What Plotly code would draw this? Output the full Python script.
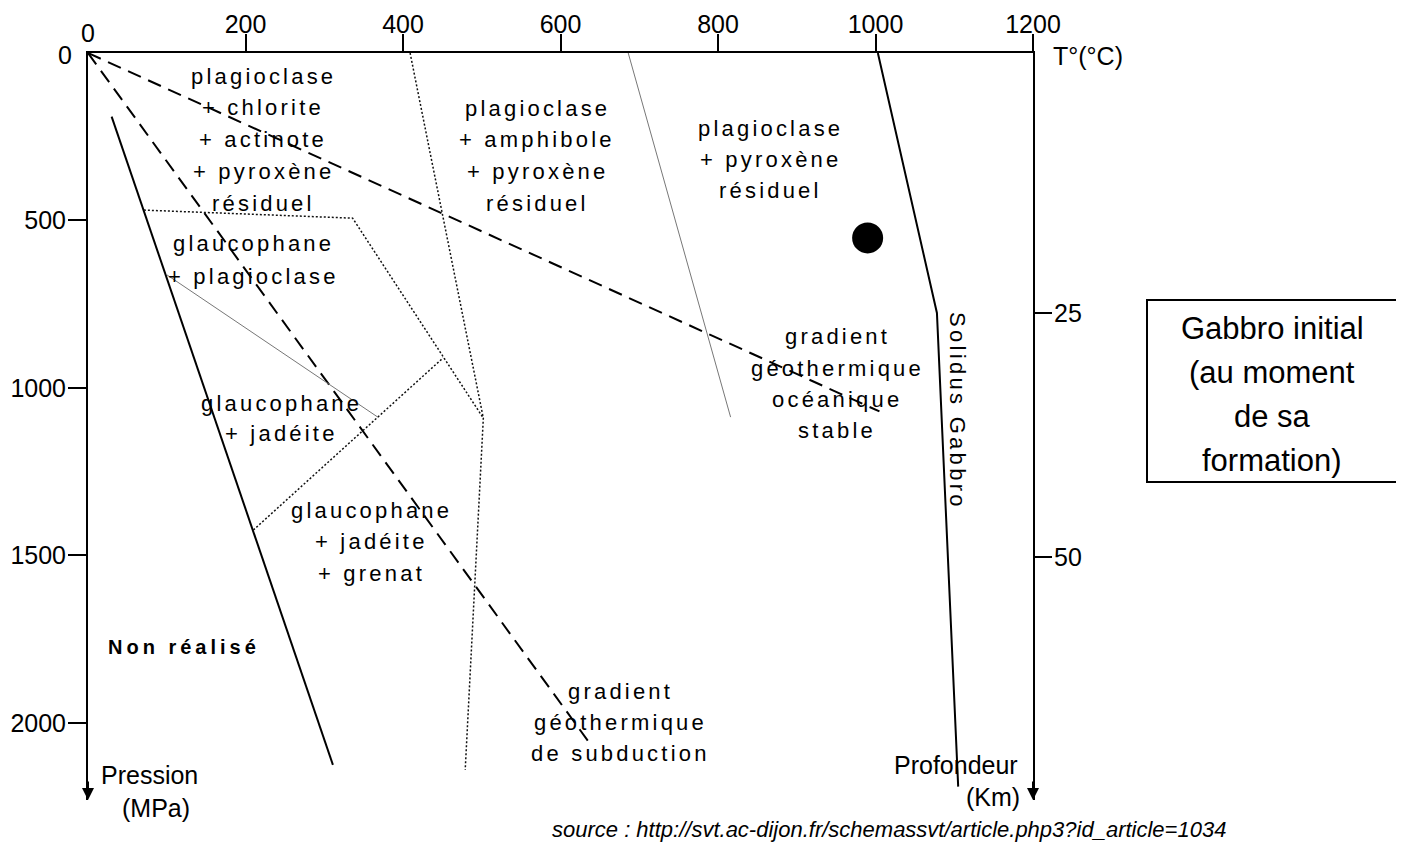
import plotly.graph_objects as go

# ---------------- data (T in °C, P in MPa) ----------------
x_ticks = [200, 400, 600, 800, 1000, 1200]
y_ticks = [500, 1000, 1500, 2000]
depth_tick_mpa = [776, 1505]
depth_tick_km = ["25", "50"]

limit_T = [30, 311]
limit_P = [190, 2125]

solidus_T = [1003, 1078, 1105]
solidus_P = [0, 776, 2190]

ocean_grad_T = [0, 1005]
ocean_grad_P = [0, 1070]

subd_grad_T = [0, 640]
subd_grad_P = [0, 2070]

dot1_T = [409, 502, 479]
dot1_P = [0, 1090, 2140]

dot2_T = [71, 336, 502]
dot2_P = [469, 493, 1090]

dot3_T = [210, 451]
dot3_P = [1424, 910]

thin1_T = [100, 368]
thin1_P = [662, 1087]

thin2_T = [686, 816]
thin2_P = [0, 1087]

gabbro_T = [990]
gabbro_P = [552]

legend_dot_T = [1520]
legend_dot_P = [624]

P_MAX = 2230

# ---------------- figure ----------------
# page has an 8px body margin: the figure is drawn 8px right / 8px down
OFF = 8
W, H = 1404 - OFF, 846 - OFF
PL, PR, PT, PB = 88, 1033, 53, 800          # plot-area edges in page pixels
FONT = "Arial, Liberation Sans, sans-serif"


def xp(px):
    return (px - PL) / (PR - PL)


def yp(py):
    return (PB - py) / (PB - PT)


fig = go.Figure()


def line(T, P, width=2, dash="solid", color="black"):
    fig.add_trace(go.Scatter(x=T, y=P, mode="lines",
                             line=dict(color=color, width=width, dash=dash),
                             hoverinfo="skip", showlegend=False))


line(limit_T, limit_P, 2)
line(solidus_T, solidus_P, 2)
line(ocean_grad_T, ocean_grad_P, 2, "14px,8px")
line(subd_grad_T, subd_grad_P, 2, "14px,8px")
line(dot1_T, dot1_P, 1.5, "2px,2px", "#111")
line(dot2_T, dot2_P, 1.5, "2px,2px", "#111")
line(dot3_T, dot3_P, 1.5, "2px,2px", "#111")
line(thin1_T, thin1_P, 1, "solid", "#777")
line(thin2_T, thin2_P, 1, "solid", "#777")

fig.add_trace(go.Scatter(x=gabbro_T, y=gabbro_P, mode="markers",
                         marker=dict(size=31, color="black"),
                         hoverinfo="skip", showlegend=False))
fig.add_trace(go.Scatter(x=legend_dot_T, y=legend_dot_P, mode="markers",
                         marker=dict(size=31, color="black"), yaxis="y2",
                         cliponaxis=False, hoverinfo="skip", showlegend=False))

annotations = []


def spaced(s, ls):
    return f'<span style="letter-spacing:{ls}px">{s}</span>'


def text(s, px, py, size=22, ls=None, bold=False, angle=0, xanchor="center"):
    t = spaced(s, ls) if ls else s
    if bold:
        t = "<b>" + t + "</b>"
    annotations.append(dict(text=t, x=xp(px), y=yp(py), xref="paper", yref="paper",
                            showarrow=False, xanchor=xanchor, yanchor="middle",
                            textangle=angle,
                            font=dict(family=FONT, size=size, color="black")))


blocks = [
    (["plagioclase", "+ chlorite", "+ actinote", "+ pyroxène", "résiduel"], 263, 76, 31.8),
    (["plagioclase", "+ amphibole", "+ pyroxène", "résiduel"], 537, 108, 31.7),
    (["plagioclase", "+ pyroxène", "résiduel"], 770, 128, 31.5),
    (["glaucophane", "+ plagioclase"], 253, 243, 33),
    (["glaucophane", "+ jadéite"], 281, 403, 30),
    (["glaucophane", "+ jadéite", "+ grenat"], 371, 510, 31.5),
    (["gradient", "géothermique", "océanique", "stable"], 837, 337, 31.3),
    (["gradient", "géothermique", "de subduction"], 620, 691, 31),
]
for lines_, cx, y0, pitch in blocks:
    for i, s in enumerate(lines_):
        text(s, cx, y0 + i * pitch, 22, 3.2)

text("Non réalisé", 184, 647, 20, 4, bold=True)
text("Solidus Gabbro", 958, 411, 22, 3.3, angle=90)

# origin labels of both axes (no tick mark at the origin)
text("0", 88, 33, 25)
text("0", 65, 55, 25)

text("T°(°C)", 1088, 56, 25)
text("Pression", 149, 775, 25)
text("(MPa)", 156, 808, 25)
text("Profondeur", 956, 765, 25)
text("(Km)", 993, 797, 25)

for i, s in enumerate(["Gabbro initial", "(au moment", "de sa", "formation)"]):
    text(s, 1272, 328 + i * 44, 31)

text("<i>source : http://svt.ac-dijon.fr/schemassvt/article.php3?id_article=1034</i>",
     889, 829, 22)

# arrow heads at the bottom of both vertical axes
for xr in [0, 1]:
    annotations.append(dict(x=xr, y=0, xref="paper", yref="paper", text="",
                            showarrow=True, arrowhead=2, arrowsize=1.2, arrowwidth=2,
                            arrowcolor="black", ax=0, ay=-20, standoff=0))

axis_common = dict(showline=True, linecolor="black", linewidth=2, ticks="outside",
                   tickwidth=2, tickcolor="black", tickfont=dict(size=25),
                   showgrid=False, zeroline=False, automargin=False)

fig.update_layout(
    width=W, height=H,
    margin=dict(l=PL - OFF, r=W + OFF - PR, t=PT - OFF, b=H + OFF - PB, pad=0),
    paper_bgcolor="white", plot_bgcolor="white",
    showlegend=False,
    font=dict(family=FONT, color="black"),
    xaxis=dict(range=[0, 1200], side="top", ticklen=17, tickvals=x_ticks,
               ticklabelstandoff=-9, **axis_common),
    yaxis=dict(range=[P_MAX, 0], ticklen=18, tickvals=y_ticks,
               ticklabelstandoff=-3, **axis_common),
    yaxis2=dict(range=[P_MAX, 0], overlaying="y", side="right", ticklen=17,
                tickvals=depth_tick_mpa, ticktext=depth_tick_km,
                ticklabelstandoff=-3, **axis_common),
    annotations=annotations,
    shapes=[dict(type="rect", xref="paper", yref="paper",
                 x0=xp(1147), x1=xp(1397), y0=yp(482), y1=yp(300),
                 line=dict(color="black", width=2))],
)

fig.write_html("out.html")
